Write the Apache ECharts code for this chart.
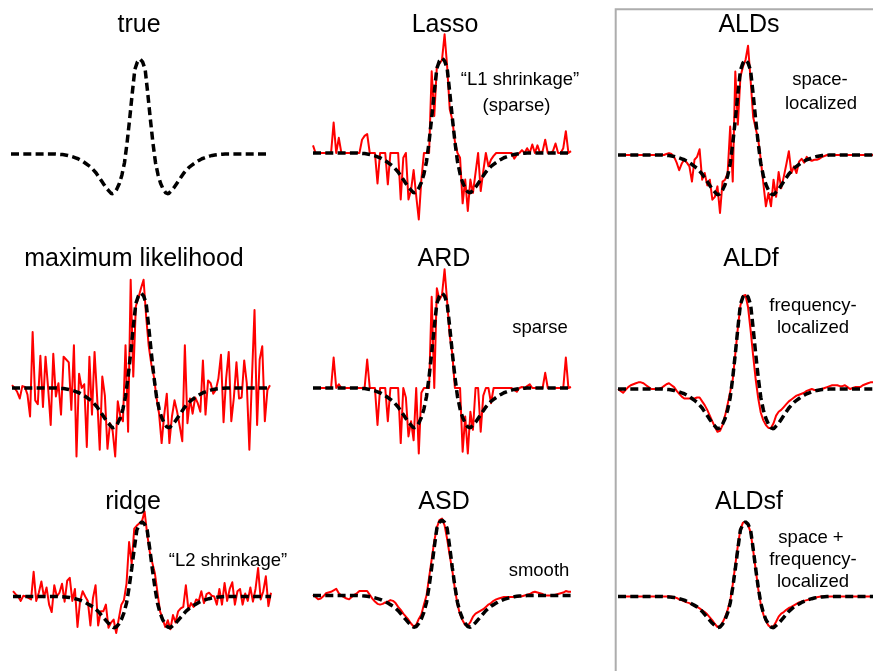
<!DOCTYPE html>
<html>
<head>
<meta charset="utf-8">
<script src="https://cdn.jsdelivr.net/npm/echarts@6/dist/echarts.min.js"></script>
<style>
html,body{margin:0;padding:0;background:#fff;}
#chart{width:873px;height:671px;}
</style>
</head>
<body>
<div id="chart"></div>
<script>
// sample index along the filter
const sampleIndex = Array.from({length: 101}, (_, i) => i);

// true filter (black dashed in every panel)
const trueFilter = [
  0,0,0,0,0,0,0,0,0,0,
  0,0,0,0,0,0,0,0,-0.002,-0.004,
  -0.006,-0.01,-0.015,-0.022,-0.03,-0.04,-0.05,-0.065,-0.08,-0.10,
  -0.12,-0.14,-0.17,-0.20,-0.24,-0.28,-0.32,-0.36,-0.39,-0.42,
  -0.41,-0.37,-0.31,-0.22,-0.09,0.12,0.37,0.64,0.89,0.97,
  1.00,
  0.97,0.89,0.64,0.37,0.12,-0.09,-0.22,-0.31,-0.37,-0.41,
  -0.42,-0.39,-0.36,-0.32,-0.28,-0.24,-0.20,-0.17,-0.14,-0.12,
  -0.10,-0.08,-0.065,-0.05,-0.04,-0.03,-0.022,-0.015,-0.01,-0.006,
  -0.004,-0.002,0,0,0,0,0,0,0,0,
  0,0,0,0,0,0,0,0,0,0
];

const mlEstimate = [
  0.03,0.00,-0.04,-0.11,0.02,0.01,-0.07,-0.30,0.59,-0.13,
  -0.17,0.34,-0.20,0.33,0.00,-0.39,0.36,-0.09,0.05,-0.28,
  0.33,0.30,0.27,-0.23,0.45,-0.72,0.15,0.00,0.04,-0.62,
  0.33,-0.28,0.38,-0.10,-0.65,0.12,-0.08,-0.64,-0.37,-0.45,
  -0.72,-0.14,-0.30,-0.35,0.45,-0.46,1.14,0.12,0.86,0.95,
  1.05,1.14,0.75,0.44,0.25,0.12,-0.10,-0.27,-0.58,-0.28,
  -0.06,-0.58,-0.30,-0.13,-0.25,-0.40,-0.56,0.45,-0.37,-0.11,
  -0.27,-0.10,-0.16,-0.25,0.29,-0.28,0.08,0.05,-0.06,-0.02,
  0.10,0.35,-0.36,0.10,0.38,-0.35,-0.10,0.27,-0.11,-0.10,
  0.29,0.05,-0.65,0.10,0.82,-0.39,0.30,0.44,-0.35,-0.02,
  0.03
];

const lassoEstimate = [
  0.08,0,0,0,0,0,0,0,0.32,0,
  0.16,0,0,0,0,0,0,0,0,0.14,
  0.18,0.20,0,0,0,-0.32,0,0,0,-0.33,
  0,0,0,0,-0.49,-0.05,0,-0.49,-0.39,-0.18,
  -0.45,-0.70,-0.28,0,0,0,0.86,0.39,0.91,0.94,
  0.98,1.25,0.91,0.46,0.35,0.12,0,-0.05,-0.53,-0.28,
  -0.61,-0.28,-0.42,-0.21,0,-0.40,-0.19,0,-0.14,-0.07,
  -0.03,0,0,0,0,0,0,0,-0.06,-0.02,
  0,0.03,0,0.05,0,0.09,0,0.08,0,0.02,
  0.14,0,0,0.02,0.10,0,0,0.05,0.23,0,
  0.02
];

const aldsEstimate = [
  0,0,0,0,0,0,0,0,0,0,
  0,0,0,0,0,0,0,0,0,0.01,
  0.02,0.01,-0.02,-0.08,-0.16,-0.09,-0.05,-0.08,-0.12,-0.28,
  -0.05,-0.02,0.06,-0.26,-0.19,-0.32,-0.26,-0.47,-0.44,-0.33,
  -0.61,-0.28,-0.26,-0.19,0.30,-0.28,0.88,0.32,0.82,0.93,
  1.00,1.15,0.79,0.40,0.28,0.16,-0.05,-0.30,-0.54,-0.40,
  -0.54,-0.26,-0.44,-0.18,-0.35,-0.23,-0.10,0.04,-0.19,-0.12,
  -0.19,-0.07,-0.04,-0.08,-0.02,-0.05,-0.06,-0.05,-0.05,-0.04,
  -0.02,-0.01,0,0,0,0,0,0,0,0,
  0,0,0,0,0,0,0,0,0,0,
  0
];

const ardEstimate = [
  0,0,0,0,0,0,0,0,0.32,0,
  0.04,0,0,0,0,0,0,0,0,0,
  0,0.30,0,0,0,-0.39,0,0,0,-0.35,
  0,0,0,0,-0.58,0,-0.10,-0.51,-0.35,-0.55,
  0,-0.69,-0.05,0,0,0,0.96,0,1.05,0.93,
  0.98,1.25,0.91,0.55,0.36,0,0,0,-0.67,-0.30,
  -0.69,-0.25,-0.44,0,0,-0.46,-0.08,0,0,-0.16,
  0,0,0,0,0,0,0,0,-0.02,-0.04,
  0,0.01,0,0.02,0.04,0,0,0,0,0,
  0.16,0,0,0,0,0,0,0,0.32,0,
  0.01
];

const aldfEstimate = [
  0.00,-0.02,-0.04,-0.01,0.02,0.04,0.05,0.06,0.07,0.07,
  0.06,0.04,0.02,0.00,0.00,0.00,0.00,0.01,0.03,0.05,
  0.06,0.04,0.02,-0.02,-0.05,-0.08,-0.10,-0.10,-0.10,-0.10,
  -0.10,-0.09,-0.09,-0.13,-0.17,-0.22,-0.28,-0.34,-0.40,-0.45,
  -0.44,-0.38,-0.28,-0.16,-0.03,0.10,0.37,0.64,0.88,0.98,
  0.99,0.86,0.62,0.35,0.10,-0.10,-0.25,-0.33,-0.38,-0.41,
  -0.41,-0.36,-0.28,-0.24,-0.22,-0.19,-0.16,-0.13,-0.11,-0.09,
  -0.07,-0.06,-0.05,-0.04,-0.02,-0.01,0.00,-0.01,-0.01,-0.01,
  0.00,0.01,0.02,0.03,0.04,0.04,0.04,0.03,0.03,0.04,
  0.02,0.00,0.01,0.02,0.02,0.02,0.04,0.05,0.06,0.07,
  0.07
];

const ridgeEstimate = [
  0.07,0.03,0.00,-0.06,0.01,0.00,-0.02,-0.04,0.33,-0.06,
  0.05,0.20,-0.01,0.12,-0.11,-0.21,0.15,0.00,0.05,0.17,
  -0.07,0.21,0.25,-0.06,0.10,-0.41,-0.06,0.07,0.00,-0.06,
  -0.39,-0.02,0.15,-0.39,-0.20,-0.20,-0.11,-0.42,-0.35,-0.31,
  -0.49,-0.30,-0.11,-0.05,0.17,0.73,0.44,0.91,0.95,0.98,
  1.01,1.14,0.84,0.60,0.45,0.31,0.05,-0.20,-0.30,-0.41,
  -0.32,-0.44,-0.25,-0.35,-0.20,-0.16,-0.14,0.15,-0.18,-0.09,
  -0.14,-0.04,-0.06,0.07,-0.09,0.03,0.05,0.01,0.00,-0.11,
  0.10,-0.11,0.18,-0.06,0.10,0.19,-0.11,0.07,0.10,-0.11,
  0.04,-0.06,0.12,-0.07,0.10,0.38,-0.04,0.07,0.27,-0.13,
  0.05
];

const asdEstimate = [
  0.01,-0.02,-0.05,-0.04,-0.01,0.03,0.04,0.05,0.07,0.09,
  0.03,0.00,-0.02,-0.04,-0.05,-0.02,0.01,0.03,0.06,0.06,
  0.06,0.06,0.01,-0.04,-0.08,-0.11,-0.12,-0.11,-0.09,-0.08,
  -0.06,-0.07,-0.10,-0.15,-0.19,-0.24,-0.28,-0.32,-0.37,-0.41,
  -0.39,-0.31,-0.25,-0.12,0.00,0.24,0.48,0.72,0.90,1.00,
  1.02,0.93,0.75,0.53,0.33,0.09,-0.12,-0.25,-0.33,-0.39,
  -0.40,-0.35,-0.28,-0.24,-0.22,-0.20,-0.18,-0.15,-0.12,-0.10,
  -0.07,-0.05,-0.04,-0.03,-0.02,-0.02,-0.02,-0.02,-0.02,-0.02,
  -0.01,-0.01,0.00,0.01,0.02,0.04,0.05,0.04,0.03,0.02,
  0.00,0.00,0.00,0.00,0.01,0.02,0.03,0.04,0.06,0.05,
  0.05
];

const aldsfEstimate = [
  0,0,0,0,0,0,0,0,0,0,
  0,0,0,0,0,0,0,0,0,0,
  0,-0.005,-0.01,-0.02,-0.04,-0.05,-0.065,-0.08,-0.09,-0.11,
  -0.125,-0.14,-0.16,-0.185,-0.21,-0.24,-0.28,-0.32,-0.37,-0.41,
  -0.40,-0.35,-0.28,-0.18,-0.06,0.16,0.42,0.68,0.90,0.99,
  1.00,0.96,0.86,0.62,0.36,0.10,-0.11,-0.24,-0.33,-0.39,
  -0.41,-0.40,-0.34,-0.27,-0.23,-0.21,-0.18,-0.155,-0.14,-0.12,
  -0.10,-0.08,-0.07,-0.06,-0.05,-0.04,-0.03,-0.02,-0.01,-0.005,
  0,0,0,0,0,0,0,0,0,0,
  0,0,0,0,0,0,0,0,0,0,
  0
];

const panelTitles = ['true','Lasso','ALDs','maximum likelihood','ARD','ALDf','ridge','ASD','ALDsf'];
const panelEstimates = [null, lassoEstimate, aldsEstimate, mlEstimate, ardEstimate, aldfEstimate, ridgeEstimate, asdEstimate, aldsfEstimate];
const panelNotes = [
  [], ['\u201CL1 shrinkage\u201D','(sparse)'], ['space-','localized'],
  [], ['sparse'], ['frequency-','localized'],
  ['\u201CL2 shrinkage\u201D'], ['smooth'], ['space +','frequency-','localized']
];

// ---- layout (pixels) ----
const panelLeft = [11, 313, 618, 12, 313, 618, 13, 313, 618];
const panelBase = [154, 153, 155, 388, 388, 389, 623, 621, 623];
const panelWidth = 258;
const pxPerUnit = 95;
const yMax = 1.3, yMin = -1.0;
const titleX = [139, 445, 749, 134, 444, 751, 133, 444, 749];
const titleY = [25.5, 25.5, 25, 259, 259, 259, 502, 502.5, 502.5];
const noteX = [
  [], [520, 516.5], [820, 821],
  [], [540], [813, 813],
  [228], [539], [811, 813, 813]
];
const noteY = [
  [], [80, 106], [80, 104],
  [], [327.5], [306, 328],
  [560.5], [570.5], [538, 560, 582]
];

const grids = [], xAxes = [], yAxes = [], series = [], graphics = [];
for (let p = 0; p < 9; p++) {
  grids.push({
    left: panelLeft[p], width: panelWidth,
    top: panelBase[p] - pxPerUnit * yMax,
    height: pxPerUnit * (yMax - yMin)
  });
  xAxes.push({gridIndex: p, type: 'category', data: sampleIndex, boundaryGap: false, show: false});
  yAxes.push({gridIndex: p, type: 'value', min: yMin, max: yMax, show: false});
  if (panelEstimates[p]) {
    series.push({
      type: 'line', xAxisIndex: p, yAxisIndex: p, data: panelEstimates[p],
      showSymbol: false, symbol: 'none', clip: false, z: 2, silent: true,
      lineStyle: {color: '#ff0000', width: 2, join: 'round'}
    });
  }
  series.push({
    type: 'line', xAxisIndex: p, yAxisIndex: p, data: trueFilter,
    showSymbol: false, symbol: 'none', clip: false, z: 3, silent: true,
    lineStyle: {color: '#000000', width: 3.5, type: [8, 4.3], cap: 'butt'}
  });
  graphics.push({
    type: 'text', x: titleX[p], y: titleY[p], z: 10,
    style: {text: panelTitles[p], fill: '#000', font: '25px "Liberation Sans", Arial, sans-serif',
            textAlign: 'center', textVerticalAlign: 'middle'}
  });
  panelNotes[p].forEach((t, k) => {
    graphics.push({
      type: 'text', x: noteX[p][k], y: noteY[p][k], z: 10,
      style: {text: t, fill: '#000', font: '18.5px "Liberation Sans", Arial, sans-serif',
              textAlign: 'center', textVerticalAlign: 'middle'}
    });
  });
}
graphics.push({
  type: 'rect', z: 1,
  shape: {x: 615.7, y: 9.3, width: 400, height: 800},
  style: {fill: 'none', stroke: '#adadad', lineWidth: 2}
});

const chart = echarts.init(document.getElementById('chart'), null, {renderer: 'canvas'});
chart.setOption({
  animation: false,
  backgroundColor: '#ffffff',
  grid: grids, xAxis: xAxes, yAxis: yAxes, series: series,
  graphic: graphics
});
</script>
</body>
</html>
